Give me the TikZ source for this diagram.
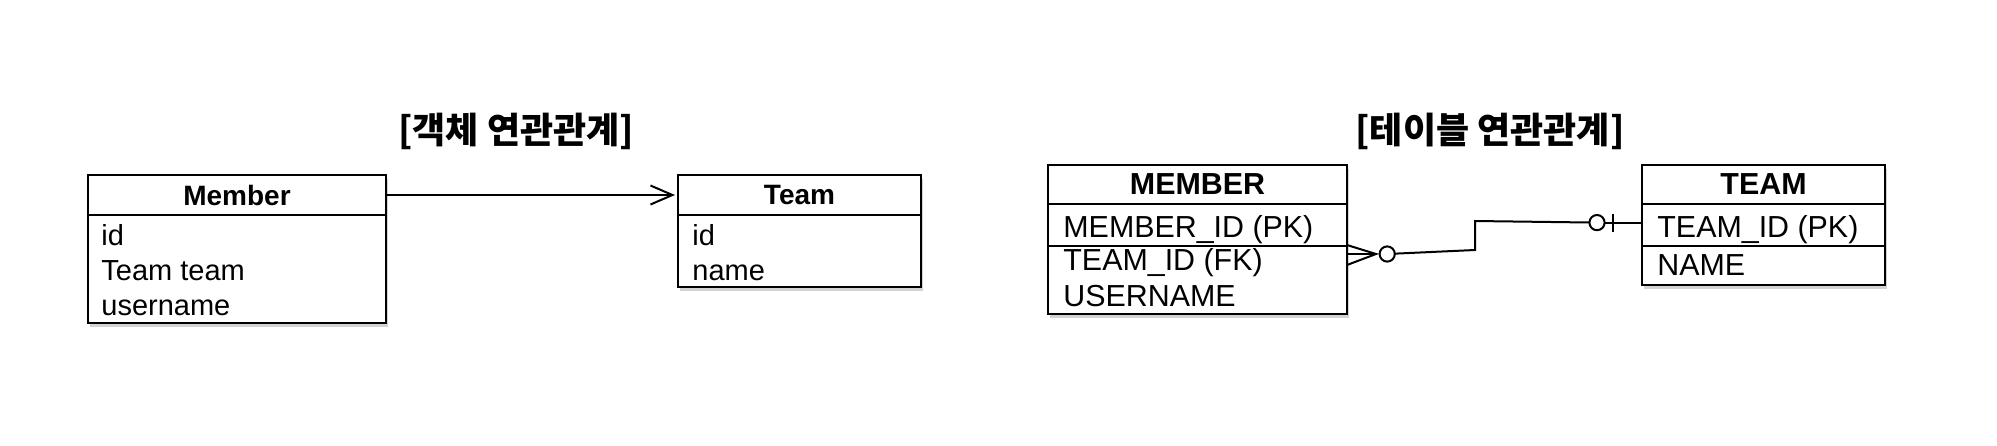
\documentclass[tikz,border=0pt]{standalone}
\usepackage{fontspec}
\setmainfont{Liberation Sans}
\newfontfamily\krfont{Noto Sans CJK KR}
\usetikzlibrary{arrows.meta, positioning, shadows}

\tikzset{
    tshadow/.style={drop shadow={shadow xshift=0.9pt, shadow yshift=-2pt, opacity=0.35}},
    tablehead/.style={rectangle, draw, line width=1.3pt, fill=white, outer sep=0pt, inner sep=0pt, tshadow, font=\bfseries\fontsize{14}{17}\selectfont},
    tablerow/.style={rectangle, draw, line width=1.3pt, fill=white, outer sep=0pt, inner sep=0pt, tshadow},
    field/.style={anchor=base west, inner sep=0pt, font=\fontsize{14.5}{17}\selectfont},
    bigfield/.style={field, font=\fontsize{15.2}{18}\selectfont},
    title/.style={font=\krfont\bfseries\fontsize{18}{20}\selectfont},
    conn/.style={line width=1pt},
    circ/.style={circle, draw, line width=1pt, fill=white, minimum size=7.6pt, inner sep=0pt, outer sep=0pt}
}

\begin{document}
\begin{tikzpicture}[x=0.5pt, y=-0.5pt]
\useasboundingbox (0,0) rectangle (1997,445);

% object side
\node[title] (objtitle) at (516,131) {[객체 연관관계]};

\node[tablehead, anchor=north west, minimum width=149pt, minimum height=20pt] (objmember) at (88,175) {Member};
\node[tablerow, below=0pt of objmember, minimum width=149pt, minimum height=54pt] (objmemberf) {};
\node[field] (om1) at (101,245) {id};
\node[field] (om2) at (101,280) {Team team};
\node[field] (om3) at (101,315) {username};

\node[tablehead, anchor=north west, minimum width=121.5pt, minimum height=20pt] (objteam) at (678,175) {Team};
\node[tablerow, below=0pt of objteam, minimum width=121.5pt, minimum height=36pt] (objteamf) {};
\node[field] (ot1) at (692,245) {id};
\node[field] (ot2) at (692,280) {name};

\draw[conn, -{Straight Barb[length=11pt, width=9.5pt]}, shorten >=1.5pt] (objmember.east) -- (objteam.west);

% table side
\node[title] (tbltitle) at (1490,131) {[테이블 연관관계]};

\node[tablehead, anchor=north west, minimum width=149.5pt, minimum height=19.5pt, font=\bfseries\fontsize{15.2}{18}\selectfont] (tblmember) at (1048,165) {MEMBER};
\node[tablerow, below=0pt of tblmember, minimum width=149.5pt, minimum height=21pt] (tblmemberpk) {};
\node[tablerow, below=0pt of tblmemberpk, minimum width=149.5pt, minimum height=34pt] (tblmemberfk) {};
\node[bigfield] (tm1) at (1063,237) {MEMBER\_ID (PK)};
\node[bigfield] (tm2) at (1063,270) {TEAM\_ID (FK)};
\node[bigfield] (tm3) at (1063,306) {USERNAME};

\node[tablehead, anchor=north west, minimum width=121.5pt, minimum height=19.5pt, font=\bfseries\fontsize{15.2}{18}\selectfont] (tblteam) at (1642,165) {TEAM};
\node[tablerow, below=0pt of tblteam, minimum width=121.5pt, minimum height=21pt] (tblteampk) {};
\node[tablerow, below=0pt of tblteampk, minimum width=121.5pt, minimum height=19.5pt] (tblteamf) {};
\node[bigfield] (tt1) at (1657,237) {TEAM\_ID (PK)};
\node[bigfield] (tt2) at (1657,275) {NAME};

% many (zero or more) to one (zero or one)
\coordinate (fkpt) at ([yshift=-4pt]tblmemberfk.north east);
\coordinate (pkpt) at ([yshift=1.2pt]tblteampk.west);
\draw[conn] ([yshift=4.5pt]fkpt) -- ++(14.5pt,-4.5pt) coordinate (cftip) -- ([yshift=-5.5pt]fkpt);
\draw[conn] (fkpt) -- (cftip);
\node[circ, right=1.8pt of cftip] (cfo) {};
\node[circ, left=18.7pt of pkpt] (pko) {};
\draw[conn] (cfo) -- (1475,250) -- (1475,221) -- (pko);
\draw[conn] (pko) -- (pkpt);
\draw[conn] ([xshift=8pt, yshift=4.5pt]pko.center) -- ([xshift=8pt, yshift=-4.5pt]pko.center);

\end{tikzpicture}
\end{document}
